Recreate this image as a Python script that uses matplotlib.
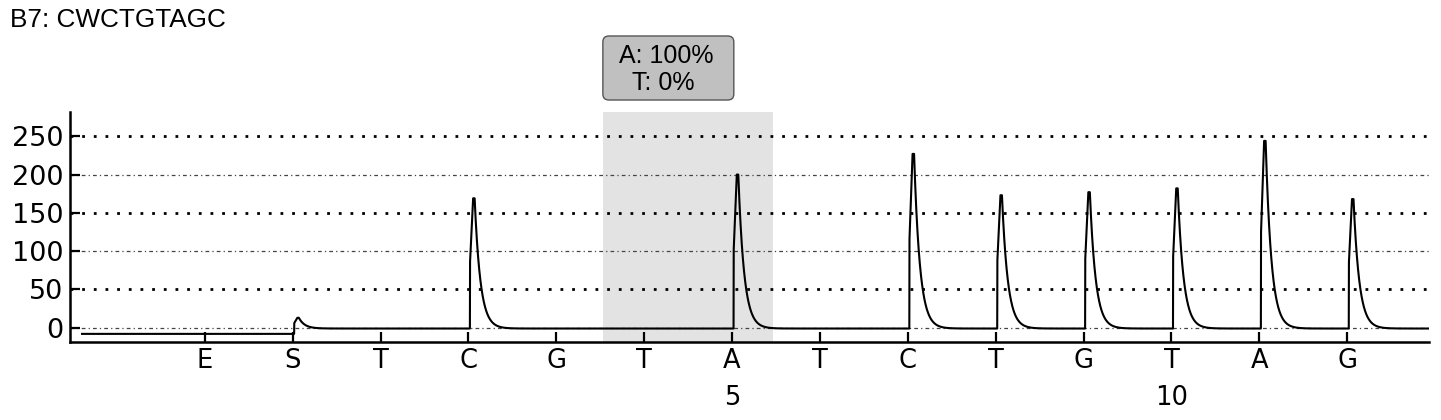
import numpy as np
import matplotlib
matplotlib.use("Agg")
import matplotlib.pyplot as plt
from matplotlib.patches import FancyBboxPatch
from matplotlib.transforms import IdentityTransform

# ---- data ----
title = "B7: CWCTGTAGC"
dispensations = ["E", "S", "T", "C", "G", "T", "A", "T", "C", "T", "G", "T", "A", "G"]
disp_pos = list(range(1, len(dispensations) + 1))
# peak heights (signal above baseline) per dispensation
peak_heights = [0, 14, 0, 170, 0, 0, 201, 0, 228, 174, 178, 183, 245, 169]
baseline_before = -8      # baseline before substrate (S) dispensation
baseline_after = -1       # baseline after
seq_numbers = {7: "5", 12: "10"}       # dispensation position -> sequence number
variant_disp = [6, 7]                   # dispensations of the variable position
variant_text = ["A: 100%", "T: 0%"]
yticks = [0, 50, 100, 150, 200, 250]

W, H, DPI = 1441, 420, 100
fig = plt.figure(figsize=(W / DPI, H / DPI), dpi=DPI)
ax = fig.add_axes([70 / W, 78 / H, 1359 / W, 230 / H])
ax.set_xlim(-0.533, 14.93)
ax.set_ylim(-18.6, 281.7)

# shaded variant region
lo, hi = min(variant_disp) - 0.47, max(variant_disp) + 0.47
ax.axvspan(lo, hi, color="#e3e3e3", zorder=0, lw=0)

# gridlines
for v in yticks:
    if v % 100 == 50:
        ax.axhline(v, color="black", lw=2.0, ls=(0, (1, 3.2)), zorder=1)
    else:
        ax.axhline(v, color="#444444", lw=0.9, ls=(0, (3, 2.5, 1, 2.5)), zorder=1)

# trace built from peak heights (pyrogram peak shape)
x = np.arange(-0.396, 14.93, 0.001)
s_pos = disp_pos[dispensations.index("S")]
y = np.where(x < s_pos + 0.018, baseline_before, baseline_after).astype(float)
t_start, t_rise, hold, tau = 0.018, 0.035, 0.018, 0.066
for p, h in zip(disp_pos, peak_heights):
    if h == 0:
        continue
    d = x - (p + t_start)
    shape = np.zeros_like(x)
    up = (d >= 0) & (d < t_rise)
    shape[up] = 0.5 + 0.5 * d[up] / t_rise
    dn = d >= t_rise
    dd = d[dn] - t_rise
    shape[dn] = np.exp(-np.maximum(0, dd - hold) / tau)
    y = y + h * shape
ax.plot(x, y, color="black", lw=1.5, zorder=3)

# axes styling
for sp in ["top", "right"]:
    ax.spines[sp].set_visible(False)
for sp in ["left", "bottom"]:
    ax.spines[sp].set_linewidth(1.8)
ax.set_yticks(yticks)
ax.set_yticklabels([str(v) for v in yticks], family="DejaVu Sans", fontsize=19.5)
ax.set_xticks(disp_pos)
ax.set_xticklabels(dispensations, family="DejaVu Sans", fontsize=18.5)
ax.tick_params(axis="both", direction="in", length=7, width=1.6, color="black")
ax.tick_params(axis="y", pad=5)
ax.tick_params(axis="x", pad=4)

# sequence numbers row
for p, lab in seq_numbers.items():
    ax.text(p, -0.245, lab, transform=ax.get_xaxis_transform(), ha="center",
            va="center", family="DejaVu Sans", fontsize=18.5)

# title
fig.text(10 / W, 1 - 20 / H, title, family="Liberation Sans", fontsize=18.8,
         ha="left", va="center")

# percentage box above variant region
fig.canvas.draw()
x0 = ax.transData.transform((lo, 0))[0]
x1 = ax.transData.transform((variant_disp[0] + 1.02, 0))[0]
y_top_ax = ax.transAxes.transform((0, 1))[1]
by0 = y_top_ax + 12
by1 = y_top_ax + 76
box = FancyBboxPatch((x0, by0), x1 - x0, by1 - by0,
                     boxstyle="round,pad=0,rounding_size=6",
                     transform=IdentityTransform(), facecolor="#c0c0c0",
                     edgecolor="#555555", lw=1.0, clip_on=False, zorder=5)
fig.patches.append(box)
cx = (x0 + x1) / 2
fig.text((cx - 2) / W, (by0 + (by1 - by0) * 0.69) / H, variant_text[0],
         family="Liberation Sans", fontsize=18, ha="center", va="center", zorder=6)
fig.text((cx - 5.5) / W, (by0 + (by1 - by0) * 0.27) / H, variant_text[1],
         family="Liberation Sans", fontsize=18, ha="center", va="center", zorder=6)

fig.savefig("out.png", dpi=DPI)
